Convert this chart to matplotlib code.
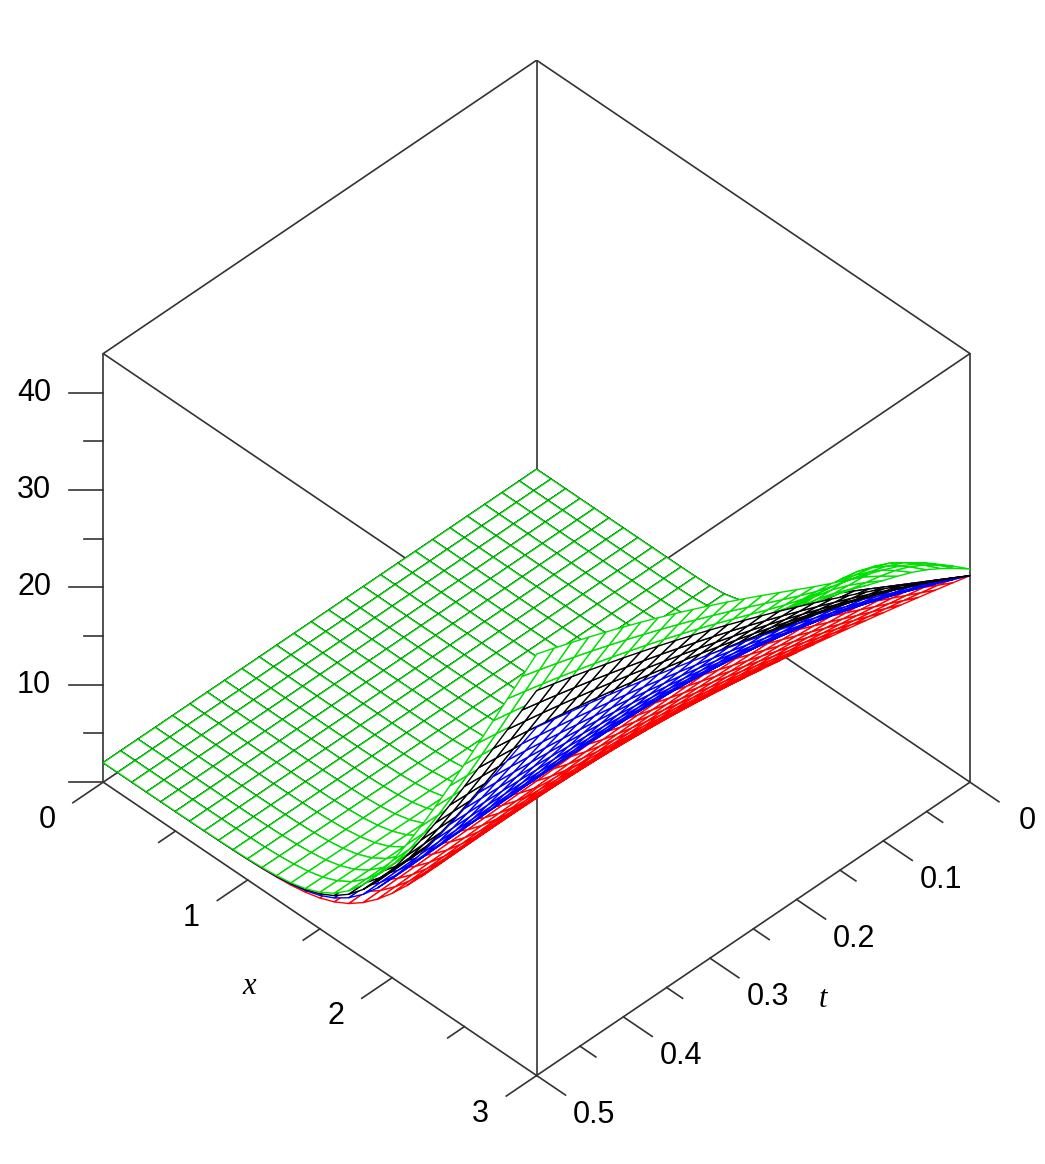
import matplotlib

matplotlib.use("Agg")
import matplotlib.pyplot as plt
import numpy as np
from mpl_toolkits.mplot3d.art3d import Poly3DCollection

# surface parameters (value at x=3 edge, t=0.5)
series_names = ["red", "blue", "black", "green"]
series_colors = ["#ff0000", "#0000ff", "#000000", "#00e000"]
slope_growth = [20.0, 30.0, 36.0, 42.0]
green_bump = [0.0, 0.0, 0.0, 2.5]

z_ticks = [0, 10, 20, 30, 40]
x_ticks = [0, 1, 2, 3]
t_ticks = [0, 0.1, 0.2, 0.3, 0.4, 0.5]

T_MAX, X_MAX, Z_MAX = 0.5, 3.0, 44.0


def profile(x, t, growth, bump):
    x0 = 1.4 + 0.7 * t
    w = 0.08 + 0.25 * t
    slope = 12.0 + growth * t
    u = 2.0 + slope * w * np.logaddexp(0.0, (x - x0) / w)
    u += bump * np.exp(-((t - 0.06) / 0.07) ** 2) * np.exp(-((x - 2.7) / 0.4) ** 2)
    return u


fig = plt.figure(figsize=(10.45, 11.64), dpi=100)
ax = fig.add_axes([0.0, 0.0, 1, 1], projection="3d", proj_type="ortho")
ax.view_init(elev=42.6, azim=45)
ax.set_box_aspect((1, 1, 0.95), zoom=0.97)
ax.set_xlim(0, T_MAX)
ax.set_ylim(0, X_MAX)
ax.set_zlim(0, Z_MAX)
ax.set_axis_off()

t = np.linspace(0, T_MAX, 26)
x = np.linspace(0, X_MAX, 31)
T, X = np.meshgrid(t, x)

# all mesh cells in one collection so hidden faces sort across surfaces
quads, edge_colors = [], []
for color, growth, bump in zip(series_colors, slope_growth, green_bump):
    U = profile(X, T, growth, bump)
    for i in range(X.shape[0] - 1):
        for j in range(X.shape[1] - 1):
            quads.append([
                (T[i, j], X[i, j], U[i, j]),
                (T[i, j + 1], X[i, j + 1], U[i, j + 1]),
                (T[i + 1, j + 1], X[i + 1, j + 1], U[i + 1, j + 1]),
                (T[i + 1, j], X[i + 1, j], U[i + 1, j]),
            ])
            edge_colors.append(color)
mesh = Poly3DCollection(quads, facecolors="white", edgecolors=edge_colors, linewidths=1.0)
ax.add_collection3d(mesh)

# box edges
corners = [(a, b) for a in (0, T_MAX) for b in (0, X_MAX)]
edge_kw = dict(color="#333333", linewidth=1.2)
for z in (0, Z_MAX):
    ax.plot([0, T_MAX, T_MAX, 0, 0], [0, 0, X_MAX, X_MAX, 0], [z] * 5, **edge_kw)
for a, b in corners:
    ax.plot([a, a], [b, b], [0, Z_MAX], **edge_kw)

font = dict(family="Liberation Sans", fontsize=22, color="black")

# z ticks on left vertical edge (t=0.5, x=0)
for z in np.arange(0, 45, 5):
    size = 1.0 if z % 10 == 0 else 0.55
    ax.plot([T_MAX, T_MAX + 0.02 * size], [0, -0.12 * size], [z, z], **edge_kw)
for z in z_ticks[1:]:
    ax.text(T_MAX + 0.03, -0.18, z, str(z), ha="right", va="center", **font)

# x ticks along front-left edge (t=0.5)
for xv in np.arange(0, 3.01, 0.5):
    size = 1.0 if xv % 1 == 0 else 0.55
    ax.plot([T_MAX, T_MAX + 0.035 * size], [xv, xv], [0, 0], **edge_kw)
for xv in x_ticks:
    ax.text(T_MAX + 0.065, xv, 0, str(xv), ha="center", va="center", **font)
ax.text(T_MAX + 0.09, 1.55, 0, "x", ha="center", va="center",
        family="Liberation Serif", fontsize=22, style="italic")

# t ticks along front-right edge (x=3)
for tv in np.arange(0, 0.501, 0.05):
    size = 1.0 if round(tv * 100) % 10 == 0 else 0.55
    ax.plot([tv, tv], [X_MAX, X_MAX + 0.2 * size], [0, 0], **edge_kw)
for tv in t_ticks:
    ax.text(tv, X_MAX + 0.4, 0, f"{tv:g}", ha="center", va="center", **font)
ax.text(0.27, X_MAX + 0.6, 0, "t", ha="center", va="center",
        family="Liberation Serif", fontsize=22, style="italic")

fig.savefig("out.png", dpi=100)
